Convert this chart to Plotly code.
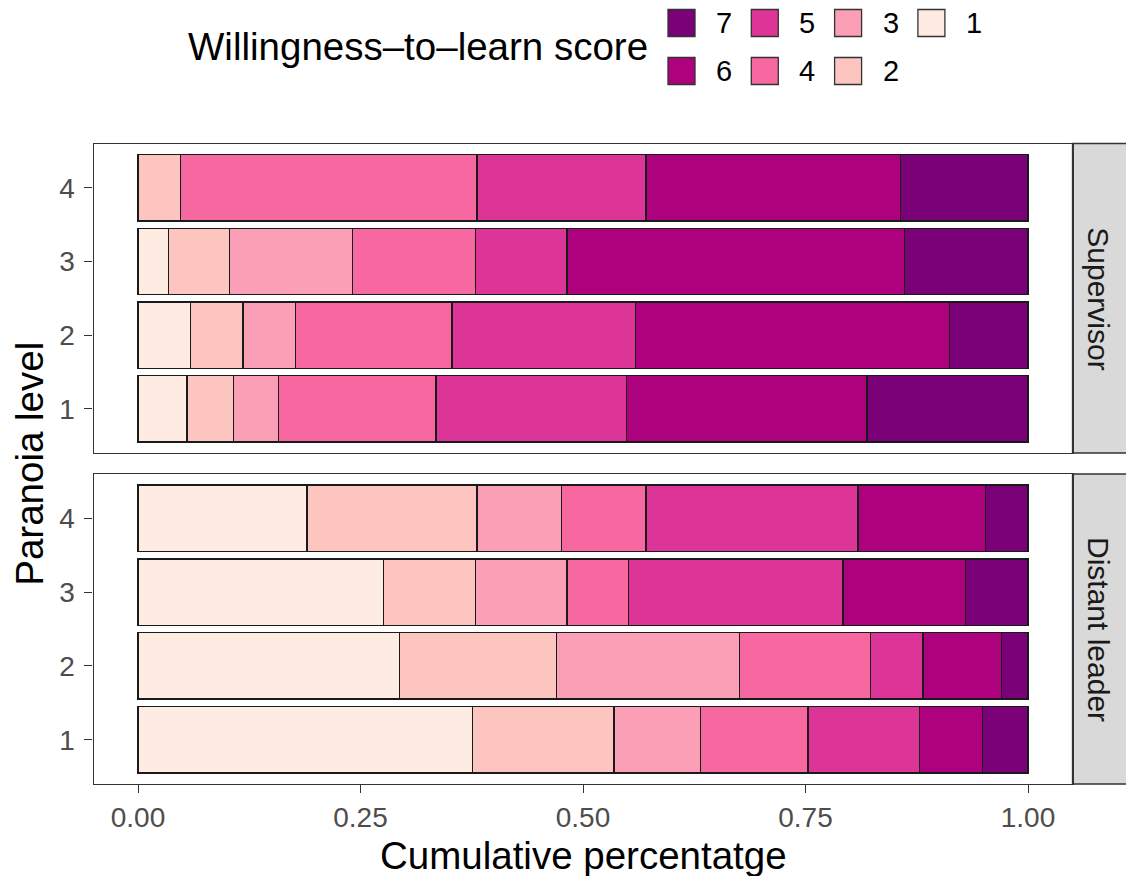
import plotly.graph_objects as go

# Willingness-to-learn scores (1 = lowest, 7 = highest)
scores = ["1", "2", "3", "4", "5", "6", "7"]
score_colors = ["#FEEBE2", "#FCC5C0", "#FA9FB5", "#F768A1", "#DD3497", "#AE017E", "#7A0177"]

# Paranoia levels shown on the y axis
levels = [1, 2, 3, 4]

# Share of respondents per score, one row per paranoia level (1..4), columns = scores 1..7
supervisor = [
    [0.055, 0.052, 0.051, 0.177, 0.214, 0.270, 0.181],
    [0.059, 0.059, 0.059, 0.176, 0.206, 0.353, 0.088],
    [0.034, 0.069, 0.138, 0.138, 0.103, 0.379, 0.139],
    [0.000, 0.048, 0.000, 0.333, 0.190, 0.286, 0.143],
]
distant_leader = [
    [0.376, 0.159, 0.097, 0.121, 0.125, 0.071, 0.051],
    [0.294, 0.176, 0.206, 0.147, 0.059, 0.088, 0.030],
    [0.276, 0.103, 0.103, 0.069, 0.241, 0.138, 0.070],
    [0.190, 0.191, 0.095, 0.095, 0.238, 0.143, 0.048],
]

panels = [("Supervisor", supervisor, "x", "y"), ("Distant leader", distant_leader, "x2", "y2")]

x_ticks = [0.0, 0.25, 0.5, 0.75, 1.0]
x_tick_text = ["0.00", "0.25", "0.50", "0.75", "1.00"]

W, H = 1126, 876
FONT = "Liberation Sans, Arial, Helvetica, sans-serif"
BORDER = "#333333"
TICK_FONT = dict(size=28, color="#4D4D4D", family=FONT)
TITLE_SIZE = 38.5

fig = go.Figure()

for name, rows, xa, ya in panels:
    for si, s in enumerate(scores):
        fig.add_trace(go.Bar(
            orientation="h",
            y=levels,
            x=[row[si] for row in rows],
            width=0.9,
            name=s,
            xaxis=xa, yaxis=ya,
            marker=dict(color=score_colors[si], line=dict(color="#1a1a1a", width=1.4)),
            showlegend=False,
            hovertemplate=name + "<br>Level %{y}<br>Score " + s + ": %{x:.3f}<extra></extra>",
        ))

# Panel geometry in pixels
px_left, px_right = 93.5, 1072.5
top_panel = (143.5, 453.0)
bot_panel = (474.0, 784.0)

def py(p):
    return 1 - p / H

x_dom = [px_left / W, px_right / W]

axis_common = dict(
    showgrid=False, zeroline=False, showline=True, mirror=True,
    linecolor=BORDER, linewidth=1.3,
)
tick_common = dict(ticks="outside", ticklen=8, tickwidth=1.3, tickcolor=BORDER, tickfont=TICK_FONT)

fig.update_layout(
    width=W, height=H, autosize=False,
    margin=dict(l=0, r=0, t=0, b=0),
    paper_bgcolor="white", plot_bgcolor="white",
    barmode="stack", bargap=0.1,
    font=dict(family=FONT, color="black"),
    showlegend=False,
    xaxis=dict(domain=x_dom, range=[-0.05, 1.05], anchor="y",
               showticklabels=False, ticks="", **axis_common),
    yaxis=dict(domain=[py(top_panel[1]), py(top_panel[0])], range=[0.4, 4.6], anchor="x",
               tickvals=levels, ticktext=[str(v) for v in levels],
               ticklabelstandoff=4, **tick_common, **axis_common),
    xaxis2=dict(domain=x_dom, range=[-0.05, 1.05], anchor="y2",
                tickvals=x_ticks, ticktext=x_tick_text,
                **tick_common, **axis_common),
    yaxis2=dict(domain=[py(bot_panel[1]), py(bot_panel[0])], range=[0.4, 4.6], anchor="x2",
                tickvals=levels, ticktext=[str(v) for v in levels],
                ticklabelstandoff=4, **tick_common, **axis_common),
)

shapes = []
annotations = []

# Facet strips on the right
for (name, _, _, _), (t, b) in zip(panels, [top_panel, bot_panel]):
    shapes.append(dict(type="rect", xref="paper", yref="paper",
                       x0=px_right / W, x1=1.05, y0=py(b), y1=py(t),
                       fillcolor="#D9D9D9", line=dict(color=BORDER, width=1.3), layer="below"))
    annotations.append(dict(text=name, xref="paper", yref="paper",
                            x=1099 / W, y=py((t + b) / 2), showarrow=False, textangle=90,
                            font=dict(size=30, color="#1A1A1A", family=FONT),
                            xanchor="center", yanchor="middle"))

# Axis titles
annotations.append(dict(text="Cumulative percentatge", xref="paper", yref="paper",
                        x=(px_left + px_right) / 2 / W, y=py(855), showarrow=False,
                        font=dict(size=TITLE_SIZE, color="black", family=FONT),
                        xanchor="center", yanchor="middle"))
annotations.append(dict(text="Paranoia level", xref="paper", yref="paper",
                        x=30 / W, y=py((top_panel[0] + bot_panel[1]) / 2), showarrow=False,
                        textangle=-90, font=dict(size=TITLE_SIZE, color="black", family=FONT),
                        xanchor="center", yanchor="middle"))

# Legend: two rows, filled column by column from the highest score
legend_order = ["7", "6", "5", "4", "3", "2", "1"]
key0_x, key0_y, key_size = 668.0, 9.5, 27.0
col_step, row_step = 83.3, 48.0
for k, s in enumerate(legend_order):
    col, row = divmod(k, 2)
    kx = key0_x + col * col_step
    ky = key0_y + row * row_step
    color = score_colors[scores.index(s)]
    shapes.append(dict(type="rect", xref="paper", yref="paper",
                       x0=kx / W, x1=(kx + key_size) / W, y0=py(ky + key_size), y1=py(ky),
                       fillcolor=color, line=dict(color=BORDER, width=1.3)))
    annotations.append(dict(text=s, xref="paper", yref="paper",
                            x=(kx + key_size + 19) / W, y=py(ky + key_size / 2), showarrow=False,
                            font=dict(size=29, color="black", family=FONT),
                            xanchor="left", yanchor="middle"))
annotations.append(dict(text="Willingness\u2013to\u2013learn score", xref="paper", yref="paper",
                        x=650 / W, y=py(47), showarrow=False,
                        font=dict(size=TITLE_SIZE, color="black", family=FONT),
                        xanchor="right", yanchor="middle"))

fig.update_layout(shapes=shapes, annotations=annotations)

fig.write_html("out.html")
